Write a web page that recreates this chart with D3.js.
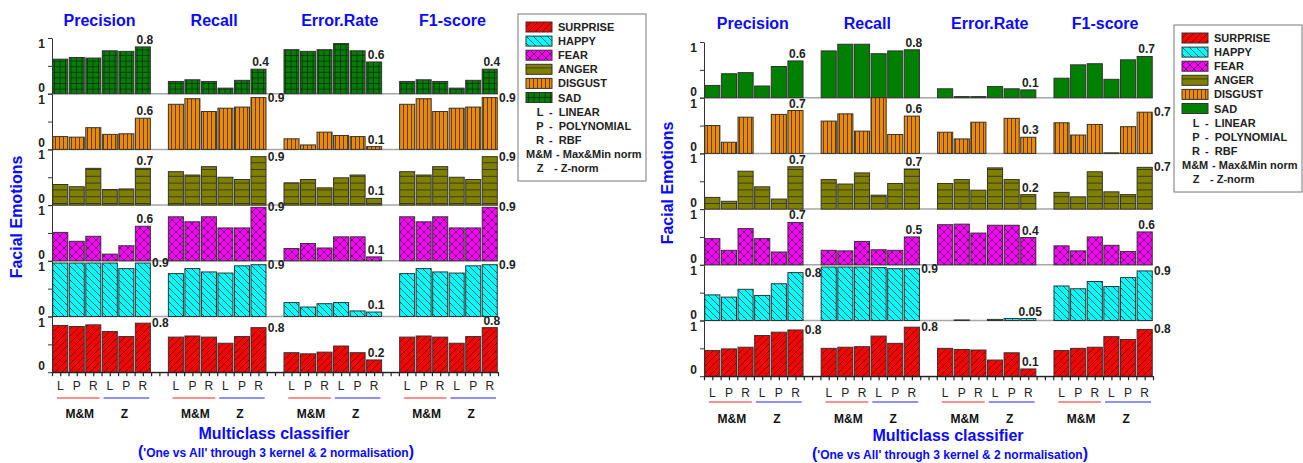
<!DOCTYPE html>
<html>
<head>
<meta charset="utf-8">
<script src="https://cdn.jsdelivr.net/npm/d3@7"></script>
<style>
  body { margin: 0; background: #fff; }
  svg { display: block; font-family: Arial, "Liberation Sans", sans-serif; }
</style>
</head>
<body>
<svg id="chart" width="1303" height="463"></svg>
<script>

const emotions = ["SAD", "DISGUST", "ANGER", "FEAR", "HAPPY", "SURPRISE"];
const legendOrder = ["SURPRISE", "HAPPY", "FEAR", "ANGER", "DISGUST", "SAD"];
const metrics = ["Precision", "Recall", "Error.Rate", "F1-score"];
const kernels = ["L", "P", "R", "L", "P", "R"];
const norms = ["M&M", "Z"];
const keyLetters = ["L", "P", "R", "M&M", "Z"];
const keyNames = ["-  LINEAR", "-  POLYNOMIAL", "-  RBF", "- Max&Min norm", "- Z-norm"];

// each emotion: [precision, recall, error rate, f1] x (L P R with M&M, L P R with Z)
const leftSad = [
  [0.62, 0.65, 0.64, 0.77, 0.76, 0.84],
  [0.22, 0.25, 0.22, 0.10, 0.24, 0.44],
  [0.79, 0.76, 0.79, 0.90, 0.77, 0.57],
  [0.22, 0.25, 0.22, 0.10, 0.24, 0.44]
];
const leftDisgust = [
  [0.23, 0.22, 0.39, 0.27, 0.28, 0.56],
  [0.81, 0.91, 0.68, 0.74, 0.76, 0.93],
  [0.19, 0.08, 0.31, 0.25, 0.23, 0.05],
  [0.81, 0.91, 0.68, 0.74, 0.76, 0.93]
];
const leftAnger = [
  [0.37, 0.33, 0.66, 0.28, 0.29, 0.66],
  [0.60, 0.54, 0.69, 0.50, 0.46, 0.87],
  [0.40, 0.46, 0.31, 0.49, 0.54, 0.12],
  [0.60, 0.54, 0.69, 0.50, 0.46, 0.87]
];
const leftFear = [
  [0.51, 0.35, 0.44, 0.12, 0.27, 0.62],
  [0.79, 0.70, 0.79, 0.59, 0.59, 0.96],
  [0.22, 0.31, 0.23, 0.43, 0.43, 0.07],
  [0.79, 0.70, 0.79, 0.59, 0.59, 0.96]
];
const leftHappy = [
  [0.96, 0.96, 0.96, 0.96, 0.86, 0.96],
  [0.77, 0.86, 0.80, 0.78, 0.91, 0.93],
  [0.25, 0.17, 0.23, 0.25, 0.10, 0.08],
  [0.77, 0.86, 0.80, 0.78, 0.91, 0.93]
];
const leftSurprise = [
  [0.84, 0.82, 0.85, 0.73, 0.64, 0.88],
  [0.63, 0.65, 0.63, 0.52, 0.64, 0.80],
  [0.35, 0.33, 0.36, 0.47, 0.35, 0.22],
  [0.63, 0.65, 0.63, 0.52, 0.64, 0.80]
];
const leftLabels = [
  ["0.8", "0.4", "0.6", "0.4"],
  ["0.6", "0.9", "0.1", "0.9"],
  ["0.7", "0.9", "0.1", "0.9"],
  ["0.6", "0.9", "0.1", "0.9"],
  ["0.9", "0.9", "0.1", "0.9"],
  ["0.8", "0.8", "0.2", "0.8"]
];
// a = above the last bar, r = right of it
const leftSides = ["aaaa", "arar", "arar", "arar", "rrar", "rraa"];

const rightSad = [
  [0.22, 0.43, 0.45, 0.21, 0.56, 0.66],
  [0.84, 0.96, 0.96, 0.79, 0.84, 0.86],
  [0.16, 0.02, 0.02, 0.20, 0.16, 0.14],
  [0.35, 0.59, 0.61, 0.33, 0.68, 0.74]
];
const rightDisgust = [
  [0.50, 0.20, 0.65, 0, 0.70, 0.77],
  [0.58, 0.71, 0.40, 1.00, 0.34, 0.67],
  [0.38, 0.26, 0.56, 0, 0.63, 0.29],
  [0.55, 0.33, 0.52, 0.01, 0.48, 0.74]
];
const rightAnger = [
  [0.21, 0.14, 0.68, 0.40, 0.18, 0.76],
  [0.53, 0.45, 0.65, 0.25, 0.46, 0.72],
  [0.46, 0.53, 0.34, 0.74, 0.53, 0.26],
  [0.30, 0.22, 0.67, 0.31, 0.26, 0.75]
];
const rightFear = [
  [0.47, 0.26, 0.65, 0.47, 0.23, 0.76],
  [0.26, 0.25, 0.42, 0.27, 0.26, 0.50],
  [0.72, 0.73, 0.57, 0.71, 0.71, 0.49],
  [0.34, 0.25, 0.50, 0.35, 0.24, 0.59]
];
const rightHappy = [
  [0.46, 0.42, 0.56, 0.45, 0.66, 0.86],
  [0.96, 0.96, 0.96, 0.95, 0.93, 0.93],
  [0, 0.01, 0, 0.02, 0.035, 0.035],
  [0.62, 0.57, 0.70, 0.61, 0.77, 0.89]
];
const rightSurprise = [
  [0.46, 0.49, 0.52, 0.73, 0.79, 0.83],
  [0.50, 0.52, 0.53, 0.72, 0.59, 0.88],
  [0.50, 0.48, 0.47, 0.29, 0.42, 0.13],
  [0.46, 0.50, 0.52, 0.71, 0.66, 0.84]
];
const rightLabels = [
  ["0.6", "0.8", "0.1", "0.7"],
  ["0.7", "0.6", "0.3", "0.7"],
  ["0.7", "0.7", "0.2", "0.7"],
  ["0.7", "0.5", "0.4", "0.6"],
  ["0.8", "0.9", "0.05", "0.9"],
  ["0.8", "0.8", "0.1", "0.8"]
];
const rightSides = ["aaaa", "aaar", "aaar", "aaaa", "rrar", "rrar"];

const blue = "#0a0aff";
const colors = {SURPRISE: "#ff0000", HAPPY: "#00ffff", FEAR: "#ff00ff",
                ANGER: "#808000", DISGUST: "#ee8a00", SAD: "#008000"};

const panels = [
  {values: [leftSad, leftDisgust, leftAnger, leftFear, leftHappy, leftSurprise],
   labels: leftLabels, sides: leftSides,
   x0: 52, x1: 498, top: 38, rowH: 55.7, titleY: 26, titleShift: [-2, -3, 7, 4],
   yTitleX: 16, yTitleY: 217, lprY: 390, lineY: 398, normY: 418, xTitleX: 274, xTitleY: 439, subY: 457,
   legend: {x: 518, y: 14, w: 128, h: 167}, solidSad: false},
  {values: [rightSad, rightDisgust, rightAnger, rightFear, rightHappy, rightSurprise],
   labels: rightLabels, sides: rightSides,
   x0: 704, x1: 1153, top: 42, rowH: 55.7, titleY: 29, titleShift: [-1, -3, 3, 2],
   yTitleX: 667, yTitleY: 183, lprY: 397, lineY: 402, normY: 423, xTitleX: 948, xTitleY: 441, subY: 459,
   legend: {x: 1174, y: 25, w: 128, h: 167}, solidSad: true}
];

const svg = d3.select("#chart");
svg.append("rect").attr("width", 1303).attr("height", 463).attr("fill", "#fff");
const defs = svg.append("defs");

function addPattern(id, color, w, h, d) {
  let p = defs.append("pattern").attr("id", id)
    .attr("patternUnits", "userSpaceOnUse").attr("width", w).attr("height", h);
  p.append("rect").attr("width", w).attr("height", h).attr("fill", color);
  if (d) p.append("path").attr("d", d).attr("fill", "none")
    .attr("stroke", "#1e1e1e").attr("stroke-width", 0.7);
}
addPattern("pat-SURPRISE", colors.SURPRISE, 7, 7, "M0,7L7,0M-1,1L1,-1M6,8L8,6");
addPattern("pat-HAPPY", colors.HAPPY, 7, 7, "M0,0L7,7M-1,6L1,8M6,-1L8,1");
addPattern("pat-FEAR", colors.FEAR, 8, 8, "M0,8L8,0M-1,1L1,-1M7,9L9,7M0,0L8,8M-1,7L1,9M7,-1L9,1");
addPattern("pat-ANGER", colors.ANGER, 10, 6.8, "M0,6.3H10");
addPattern("pat-DISGUST", colors.DISGUST, 4, 10, "M3.5,0V10");
addPattern("pat-SAD", colors.SAD, 5.5, 5.6, "M5,0V5.6M0,5.1H5.5");
addPattern("pat-SAD-solid", colors.SAD, 10, 10, null);

function drawPanel(p) {
  let g = svg.append("g");
  let x = d3.scaleLinear().domain([0, 27]).range([p.x0, p.x1]);
  let sw = x(1) - x(0);
  let rowY = d3.scaleLinear().domain([0, 6]).range([p.top, p.top + 6 * p.rowH]);

  emotions.forEach((emo, r) => {
    let y = d3.scaleLinear().domain([0, 1]).range([rowY(r + 1), rowY(r)]);
    let fill = emo == "SAD" && p.solidSad ? "url(#pat-SAD-solid)" : "url(#pat-" + emo + ")";

    // grey row baseline
    g.append("line")
      .attr("x1", p.x0).attr("x2", p.x1)
      .attr("y1", y(0)).attr("y2", y(0))
      .attr("stroke", "#a6a6a6").attr("stroke-width", 1.5);

    let bars = p.values[r].flatMap((vals, m) => vals.map((v, b) => ({v: v, slot: m * 7 + b})))
      .filter(d => d.v > 0);
    g.append("g").selectAll("rect")
      .data(bars)
      .join("rect")
        .attr("x", d => x(d.slot) + 0.75)
        .attr("width", sw - 1.5)
        .attr("y", d => y(d.v))
        .attr("height", d => y(0) - y(d.v))
        .attr("fill", fill)
        .attr("stroke", "#333")
        .attr("stroke-width", 1);

    // y axis for the row
    let ax = g.append("g")
      .attr("transform", "translate(" + p.x0 + ",0)")
      .call(d3.axisLeft(y).tickValues([0, 0.5, 1]).tickSize(4).tickSizeOuter(0).tickFormat(""));
    ax.selectAll("path, line").attr("stroke", "#333");

    g.append("text").attr("x", p.x0 - 7).attr("y", y(1) + 10)
      .attr("text-anchor", "end").attr("font-size", 12).attr("font-weight", "bold")
      .attr("fill", "#222").text("1");
    g.append("text").attr("x", p.x0 - 7).attr("y", y(0) - 2)
      .attr("text-anchor", "end").attr("font-size", 12).attr("font-weight", "bold")
      .attr("fill", "#222").text("0");

    // value labels on the last bar of each metric
    metrics.forEach((met, m) => {
      let slot = m * 7 + 5;
      let v = p.values[r][m][5];
      let side = p.sides[r][m];
      g.append("text")
        .attr("x", side == "a" ? x(slot + 0.5) + 2 : x(slot + 1) + 1)
        .attr("y", side == "a" ? y(v) - 3 : y(v) + 4)
        .attr("text-anchor", side == "a" ? "middle" : "start")
        .attr("font-size", 12).attr("font-weight", "bold").attr("fill", "#222")
        .text(p.labels[r][m]);
    });
  });

  // bottom axis
  let bottom = g.append("g")
    .attr("transform", "translate(0," + rowY(6) + ")")
    .call(d3.axisBottom(x).tickValues(d3.range(0, 27.01, 0.5)).tickSize(4).tickSizeOuter(0).tickFormat(""));
  bottom.selectAll("path, line").attr("stroke", "#222").attr("stroke-width", 1.2);

  // metric titles
  metrics.forEach((met, m) => {
    g.append("text")
      .attr("x", x(m * 7 + 3) + p.titleShift[m]).attr("y", p.titleY)
      .attr("text-anchor", "middle").attr("font-size", 16).attr("font-weight", "bold")
      .attr("fill", blue).text(met);

    kernels.forEach((k, b) => {
      g.append("text")
        .attr("x", x(m * 7 + b + 0.5)).attr("y", p.lprY)
        .attr("text-anchor", "middle").attr("font-size", 12).attr("fill", "#222")
        .text(k);
    });

    norms.forEach((n, i) => {
      let s = m * 7 + i * 3;
      g.append("line")
        .attr("x1", x(s) + (i == 0 ? 5 : 2)).attr("x2", x(s + 3) - 2)
        .attr("y1", p.lineY).attr("y2", p.lineY)
        .attr("stroke", i == 0 ? "#ff6a6a" : "#6a6aff").attr("stroke-width", 1.3);
      g.append("text")
        .attr("x", x(s + 1.5) + (i == 0 ? 3 : -2)).attr("y", p.normY)
        .attr("text-anchor", "middle").attr("font-size", 12).attr("font-weight", "bold")
        .attr("fill", "#111").text(n);
    });
  });

  g.append("text")
    .attr("transform", "translate(" + p.yTitleX + "," + p.yTitleY + ") rotate(-90)")
    .attr("text-anchor", "middle").attr("dominant-baseline", "central")
    .attr("font-size", 16).attr("font-weight", "bold").attr("fill", blue)
    .text("Facial Emotions");

  g.append("text")
    .attr("x", p.xTitleX).attr("y", p.xTitleY)
    .attr("text-anchor", "middle").attr("font-size", 16).attr("font-weight", "bold")
    .attr("fill", blue).text("Multiclass classifier");

  let sub = g.append("text")
    .attr("x", p.xTitleX + 2).attr("y", p.subY)
    .attr("text-anchor", "middle").attr("font-weight", "bold").attr("fill", blue);
  sub.append("tspan").attr("font-size", 16).text("(");
  sub.append("tspan").attr("font-size", 12).text("'One vs All' through 3 kernel & 2 normalisation");
  sub.append("tspan").attr("font-size", 16).text(")");

  drawLegend(p);
}

function drawLegend(p) {
  let L = p.legend;
  let g = svg.append("g").attr("transform", "translate(" + L.x + "," + L.y + ")");
  g.append("rect").attr("width", L.w).attr("height", L.h)
    .attr("fill", "#fff").attr("stroke", "#777").attr("stroke-width", 1);

  legendOrder.forEach((emo, i) => {
    let cy = 13 + i * 14.1;
    let fill = emo == "SAD" && p.solidSad ? "url(#pat-SAD-solid)" : "url(#pat-" + emo + ")";
    g.append("rect")
      .attr("x", 8).attr("y", cy - 5).attr("width", 26).attr("height", 10)
      .attr("fill", fill).attr("stroke", "#333").attr("stroke-width", 1);
    g.append("text").attr("x", 40).attr("y", cy + 4)
      .attr("font-size", 11).attr("font-weight", "bold").attr("fill", "#222").text(emo);
  });

  keyLetters.forEach((k, i) => {
    let cy = 13 + (i + 6) * 14.1;
    g.append("text").attr("x", k == "M&M" ? 8 : 22).attr("y", cy + 4)
      .attr("text-anchor", k == "M&M" ? "start" : "middle")
      .attr("font-size", 11).attr("font-weight", "bold").attr("fill", "#222").text(k);
    g.append("text").attr("x", k == "M&M" ? 38 : (k == "Z" ? 36 : 31)).attr("y", cy + 4)
      .attr("font-size", 11).attr("font-weight", "bold").attr("fill", "#222")
      .attr("xml:space", "preserve").text(keyNames[i]);
  });
}

panels.forEach(drawPanel);
</script>
</body>
</html>
